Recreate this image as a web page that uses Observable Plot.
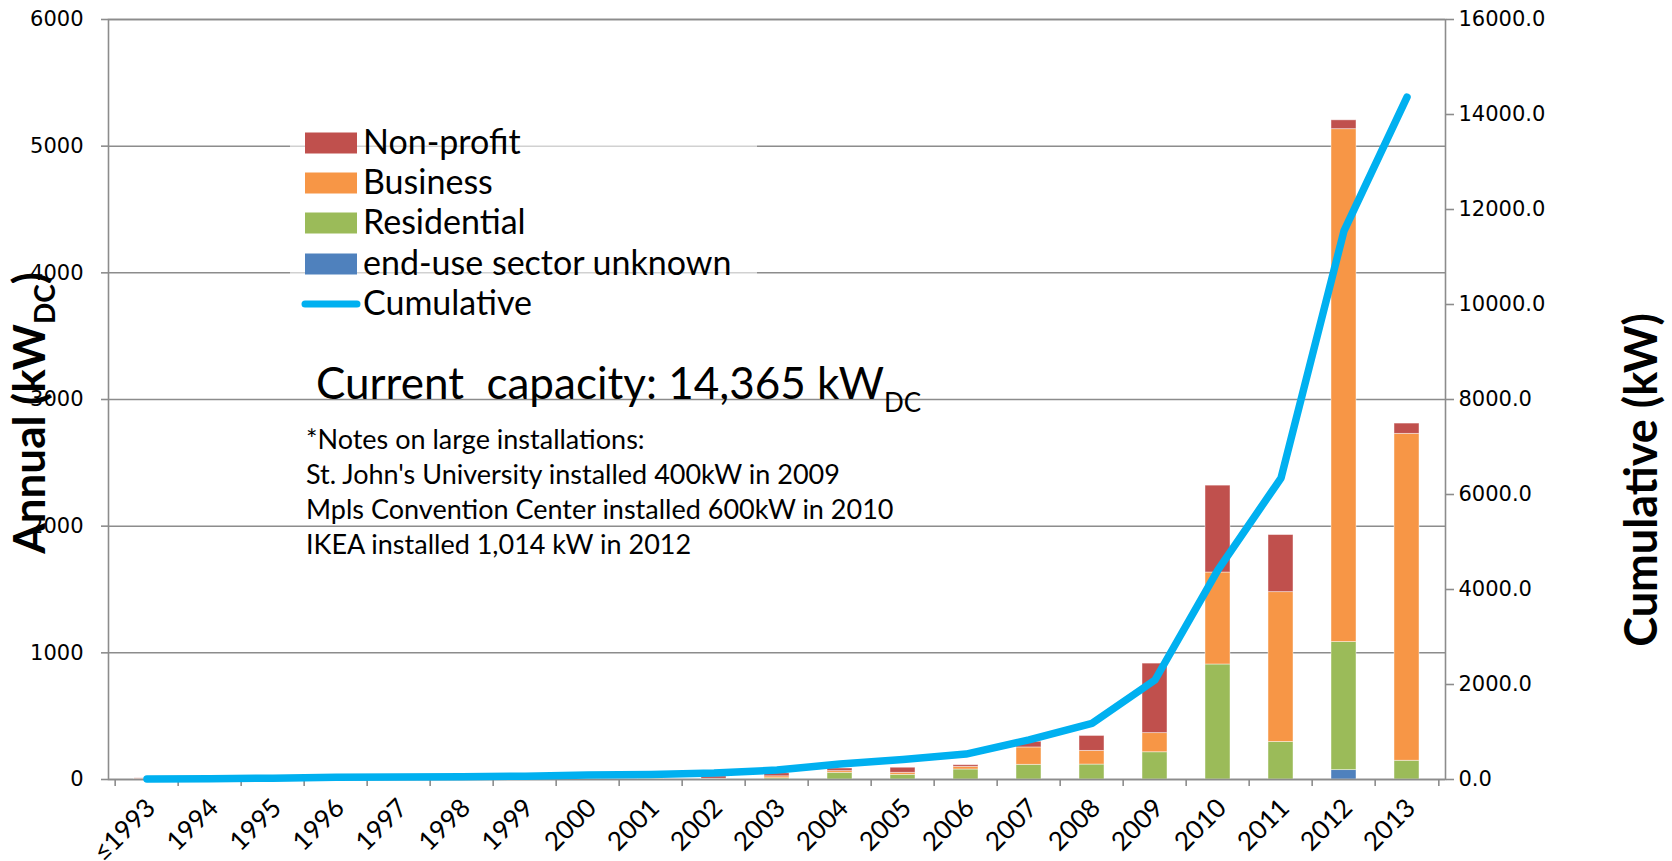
<!DOCTYPE html>
<html><head><meta charset="utf-8">
<script src="https://cdn.jsdelivr.net/npm/d3@7"></script>
<script src="https://cdn.jsdelivr.net/npm/@observablehq/plot@0.6"></script>
<style>body{margin:0;background:#fff}#chart svg{display:block}</style>
</head><body><div id="chart"></div>
<script>
// ---- data ----
const years = ["≤1993","1994","1995","1996","1997","1998","1999","2000","2001","2002","2003","2004","2005","2006","2007","2008","2009","2010","2011","2012","2013"];
const nonProfit   = [4, 0, 0, 0, 0, 0, 0, 3, 0, 18, 24, 21, 40, 13, 45, 118, 549, 686, 451, 70, 81];
const business    = [2, 0, 0, 0, 0, 0, 0, 5, 0, 3, 15, 13, 16, 21, 137, 108, 151, 726, 1183, 4049, 2581];
const residential = [3, 4, 8, 12, 8, 4, 6, 5, 4, 3, 10, 53, 37, 79, 116, 118, 215, 908, 296, 1011, 148];
const unknown     = [0, 0, 0, 0, 0, 0, 0, 0, 0, 0, 0, 0, 0, 0, 0, 0, 0, 0, 0, 74, 0];
const cumulative  = [12, 18, 28, 45, 55, 60, 68, 95, 105, 135, 200, 325, 420, 535, 835, 1180, 2095, 4415, 6345, 11550, 14365];
const leftTicks  = [0, 1000, 2000, 3000, 4000, 5000, 6000];
const rightTicks = [0, 2000, 4000, 6000, 8000, 10000, 12000, 14000, 16000];
const sectorOrder = ["end-use sector unknown", "Residential", "Business", "Non-profit"]; // bottom to top
const sectorColors = ["#4F81BD", "#9BBB59", "#F79646", "#C0504D"];
const legendItems = ["Non-profit", "Business", "Residential", "end-use sector unknown"];
const lineColor = "#00B0F0";
const notes = [
  "*Notes on large installations:",
  "St. John's University installed 400kW in 2009",
  "Mpls Convention Center installed 600kW in 2010",
  "IKEA installed 1,014 kW in 2012"
];

// ---- tables ----
const series = {"Non-profit": nonProfit, "Business": business, "Residential": residential, "end-use sector unknown": unknown};
const rows = years.flatMap((y, i) => sectorOrder.map(s => ({year: y, sector: s, value: series[s][i]})));
const cum = years.map((y, i) => ({year: y, value: cumulative[i]}));
const ratio = 6000 / 16000; // right axis -> left axis units

const W = 1672, H = 861, mL = 108, mR = 227, mT = 19, mB = 82;
const step = (W - mL - mR) / years.length;
const grid = "#8c8c8c";

const plot = Plot.plot({
  width: W, height: H,
  marginLeft: mL, marginRight: mR, marginTop: mT, marginBottom: mB,
  style: {fontFamily: "DejaVu Sans", fontSize: "21px", color: "#000", background: "#fff", overflow: "visible"},
  x: {domain: years, paddingInner: 0.6, paddingOuter: 0.3, axis: null},
  y: {domain: [0, 6000], axis: null},
  color: {domain: sectorOrder, range: sectorColors},
  marks: [
    Plot.ruleY(leftTicks, {stroke: grid, strokeWidth: 1.5}),
    Plot.barY(rows, {x: "year", y: "value", fill: "sector", order: sectorOrder, stroke: "#fff", strokeWidth: 0.8, strokeOpacity: 0.55}),
    Plot.frame({stroke: grid, strokeWidth: 1.6}),
    Plot.ruleX(years, {x: d => d, y1: 0, y2: 0, insetBottom: -7, dx: -step / 2, stroke: grid, strokeWidth: 1.6}),
    Plot.ruleX(years.slice(-1), {x: d => d, y1: 0, y2: 0, insetBottom: -7, dx: step / 2, stroke: grid, strokeWidth: 1.6}),
    Plot.axisY(leftTicks, {anchor: "left", label: null, tickSize: 7, tickPadding: 18, stroke: grid, strokeWidth: 1.6, fill: "#000", tickFormat: d => String(d)}),
    Plot.axisY(rightTicks.map(v => v * ratio), {anchor: "right", label: null, tickSize: 8, tickPadding: 5, stroke: grid, strokeWidth: 1.6, fill: "#000", tickFormat: d => (d / ratio).toFixed(1)}),
    Plot.text(years, {x: d => d, frameAnchor: "bottom", dy: 30, dx: 10, rotate: -45, textAnchor: "end", lineAnchor: "bottom", fontFamily: "Lato", fontSize: 26, fill: "#000"}),
    Plot.line(cum, {x: "year", y: d => d.value * ratio, stroke: lineColor, strokeWidth: 7.5, strokeLinecap: "round", strokeLinejoin: "round"})
  ]
});
document.getElementById("chart").appendChild(plot);

// ---- annotations, legend, axis titles ----
const svg = d3.select(plot);
const ann = svg.append("g").attr("font-family", "Lato").attr("fill", "#000").attr("text-anchor", "start");

// legend background (semi-transparent, lets gridlines show faintly)
ann.append("rect").attr("x", 290).attr("y", 121).attr("width", 467).attr("height", 202)
  .attr("fill", "#fff").attr("fill-opacity", 0.6);
const rowY = [143, 183, 223, 264];
legendItems.forEach((name, i) => {
  ann.append("rect").attr("x", 305).attr("y", rowY[i] - 10.5).attr("width", 52).attr("height", 21)
    .attr("fill", sectorColors[sectorOrder.indexOf(name)]);
  ann.append("text").attr("x", 363).attr("y", rowY[i] + 11).attr("font-size", 34).text(name);
});
ann.append("line").attr("x1", 305).attr("x2", 357).attr("y1", 304).attr("y2", 304)
  .attr("stroke", lineColor).attr("stroke-width", 7).attr("stroke-linecap", "round");
ann.append("text").attr("x", 363).attr("y", 315).attr("font-size", 34).text("Cumulative");

// current capacity
const cc = ann.append("text").attr("x", 316).attr("y", 399).attr("font-size", 44).style("white-space", "pre");
cc.append("tspan").text("Current  capacity: 14,365 kW");
cc.append("tspan").attr("dy", 13).attr("font-size", 26).text("DC");

// notes
notes.forEach((t, i) => {
  ann.append("text").attr("x", 306).attr("y", 449 + i * 35).attr("font-size", 27).text(t);
});

// left axis title
const lt = ann.append("text").attr("transform", "translate(45,413) rotate(-90)")
  .attr("text-anchor", "middle").attr("font-weight", "bold").attr("font-size", 44);
lt.append("tspan").text("Annual (kW");
lt.append("tspan").attr("dy", 10).attr("font-size", 28).text("DC");
lt.append("tspan").attr("dy", -10).text(")");

// right axis title
ann.append("text").attr("transform", "translate(1657,480) rotate(-90)")
  .attr("text-anchor", "middle").attr("font-weight", "bold").attr("font-size", 45)
  .text("Cumulative (kW)");
</script>
</body></html>
